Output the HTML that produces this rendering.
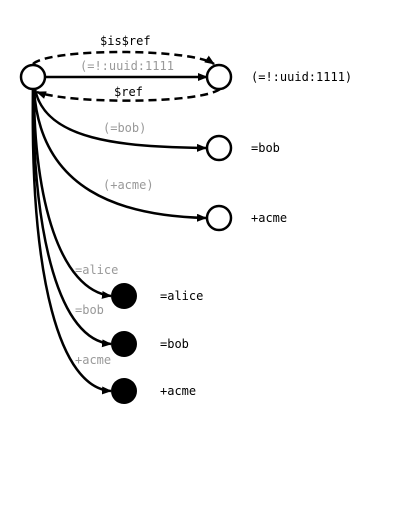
<!DOCTYPE html>
<html><head><style>body{margin:0;background:#fff}svg{display:block}</style></head><body>
<svg width="400" height="518" xmlns="http://www.w3.org/2000/svg" font-family="'DejaVu Sans Mono','Liberation Mono',monospace" font-size="12">
<defs><marker id="a" markerWidth="10" markerHeight="8" refX="9" refY="4" orient="auto" markerUnits="userSpaceOnUse"><path d="M0,0 L10,4 L0,8 Z" fill="#000"/></marker></defs>
<g fill="none" stroke="#000" stroke-width="2.5">
<path d="M45,77 L207,77" marker-end="url(#a)"/>
<path d="M33,64 C50,48 190,48 214,64" stroke-dasharray="8,5" marker-end="url(#a)"/>
<path d="M220,89 C200,104 70,104 37,92" stroke-dasharray="8,5" marker-end="url(#a)"/>
<path d="M35,89 C45,140 120,147 206,148" marker-end="url(#a)"/>
<path d="M34,89 C40,190 120,216 206,218" marker-end="url(#a)"/>
<path d="M34,89 C34,200 60,290 111,296" marker-end="url(#a)"/>
<path d="M33,89 C33,240 60,340 111,344" marker-end="url(#a)"/>
<path d="M33,89 C30,280 60,388 111,391" marker-end="url(#a)"/>
<circle cx="33" cy="77" r="12" fill="#fff"/>
<circle cx="219" cy="77" r="12" fill="#fff"/>
<circle cx="219" cy="148" r="12" fill="#fff"/>
<circle cx="219" cy="218" r="12" fill="#fff"/>
</g>
<circle cx="124" cy="296" r="13" fill="#000"/>
<circle cx="124" cy="344" r="13" fill="#000"/>
<circle cx="124" cy="391" r="13" fill="#000"/>
<g fill="#000">
<text x="100" y="45">$is$ref</text>
<text x="114" y="96">$ref</text>
<text x="251" y="81">(=!:uuid:1111)</text>
<text x="251" y="152">=bob</text>
<text x="251" y="222">+acme</text>
<text x="160" y="300">=alice</text>
<text x="160" y="348">=bob</text>
<text x="160" y="395">+acme</text>
</g>
<g fill="#999">
<text x="80" y="70">(=!:uuid:1111</text>
<text x="103" y="132">(=bob)</text>
<text x="103" y="189">(+acme)</text>
<text x="75" y="274">=alice</text>
<text x="75" y="314">=bob</text>
<text x="75" y="364">+acme</text>
</g>
</svg>
</body></html>
